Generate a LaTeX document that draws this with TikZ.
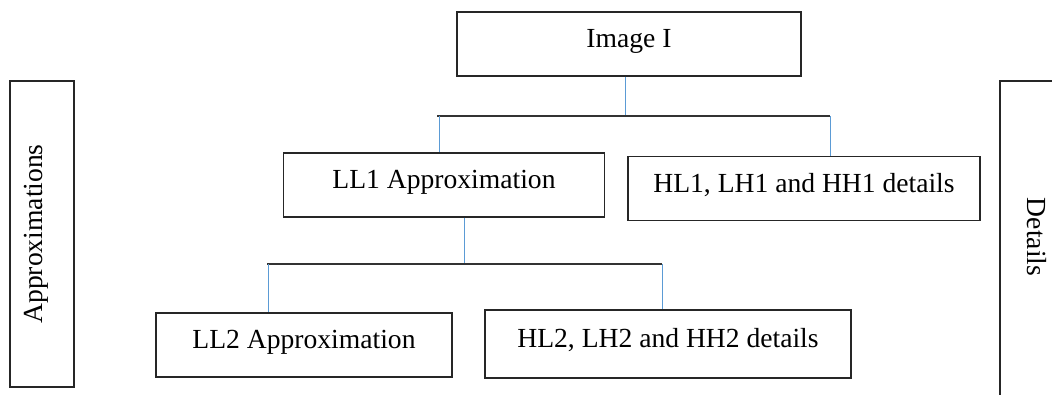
\documentclass[tikz,border=0pt]{standalone}
\usepackage{fontspec}
\setmainfont{Liberation Serif}
\begin{document}
\begin{tikzpicture}[x=1pt,y=-1pt,
  box/.style={draw=black!85, line width=1.3pt, rectangle, inner sep=0pt, text height=16pt, text depth=9pt, font=\fontsize{27.6}{32}\selectfont},
  blueline/.style={line width=0.9pt, draw={rgb,255:red,91;green,155;blue,213}},
  busline/.style={draw=black!80, line width=1.3pt},
  sidetext/.style={font=\fontsize{27.6}{32}\selectfont}]
\useasboundingbox (0,0) rectangle (1052,394);
\clip (0,0) rectangle (1052,394);
\node[box, minimum width=344pt, minimum height=64pt] (img) at (629,44) {Image I};
\node[box, minimum width=321pt, minimum height=64pt] (ll1) at (444,185) {LL1 Approximation};
\node[box, minimum width=352pt, minimum height=64pt] (hl1) at (804,188.5) {HL1, LH1 and HH1 details};
\node[box, minimum width=296pt, minimum height=64pt] (ll2) at (304,345) {LL2 Approximation};
\node[box, minimum width=366pt, minimum height=68pt] (hl2) at (668,344) {HL2, LH2 and HH2 details};
\node[box, minimum width=64pt, minimum height=306pt] (apx) at (42,234) {};
\node[sidetext, rotate=90] (apxt) at (36,234) {Approximations};
\node[box, minimum width=80pt, minimum height=340pt] (det) at (1040,251) {};
\node[sidetext, rotate=-90] (dett) at (1037,237) {Details};
% bus 1
\coordinate (b1c) at (625,116);
\coordinate (b1l) at (437,116);
\coordinate (b1r) at (830,116);
\coordinate (d1l) at (439,116);
\draw[blueline] (b1c |- img.south) -- (b1c);
\draw[busline] (b1l) -- (b1r);
\draw[blueline] (d1l) -- (d1l |- ll1.north);
\draw[blueline] (b1r) -- (b1r |- hl1.north);
% bus 2
\coordinate (b2c) at (464,264);
\coordinate (b2l) at (267,264);
\coordinate (b2r) at (662,264);
\coordinate (d2l) at (268,264);
\draw[blueline] (b2c |- ll1.south) -- (b2c);
\draw[busline] (b2l) -- (b2r);
\draw[blueline] (d2l) -- (d2l |- ll2.north);
\draw[blueline] (b2r) -- (b2r |- hl2.north);
\end{tikzpicture}
\end{document}
